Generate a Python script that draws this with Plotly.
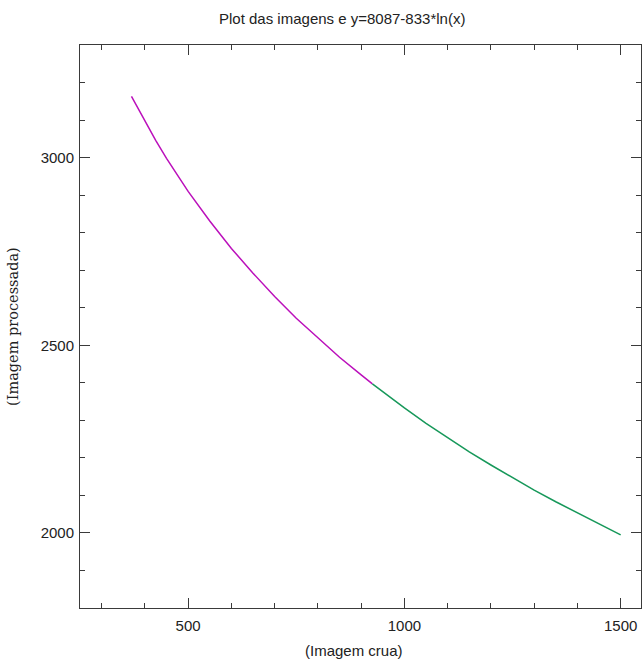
import plotly.graph_objects as go

# Magenta segment
x_magenta = [369, 400, 425, 450, 475, 500, 550, 600, 650, 700, 750, 800, 850, 900, 926]
y_magenta = [3163, 3096, 3046, 2998, 2953, 2910, 2831, 2758, 2692, 2630, 2572, 2519, 2468, 2421, 2397]

# Green segment
x_green = [926, 950, 1000, 1050, 1100, 1150, 1200, 1250, 1300, 1350, 1400, 1450, 1500]
y_green = [2397, 2376, 2333, 2292, 2253, 2216, 2181, 2147, 2114, 2083, 2053, 2023, 1995]

x_ticks = [500, 1000, 1500]
y_ticks = [2000, 2500, 3000]

title_text = "Plot das imagens e y=8087-833*ln(x)"
x_title = "(Imagem crua)"
y_title = "(Imagem processada)"

W, H = 642, 664
L, T = 80, 45
R = W - 641
B = H - 608
pw = W - L - R
ph = H - T - B


def px_x(page_x):
    return (page_x - L) / pw


def px_y(page_y):
    return 1 - (page_y - T) / ph


fig = go.Figure()
fig.add_trace(go.Scatter(x=x_magenta, y=y_magenta, mode="lines",
                         line=dict(color="#bb10bb", width=1.5), showlegend=False))
fig.add_trace(go.Scatter(x=x_green, y=y_green, mode="lines",
                         line=dict(color="#17985a", width=1.5), showlegend=False))

axis_common = dict(
    showline=True, linecolor="#3a3a3a", linewidth=1, mirror="allticks",
    ticks="inside", ticklen=10, tickwidth=1, tickcolor="#3a3a3a",
    showgrid=False, zeroline=False,
    tickfont=dict(family="Liberation Sans, Arial", size=15, color="#222"),
)

fig.update_xaxes(range=[250, 1547], tickvals=x_ticks, ticktext=[str(v) for v in x_ticks],
                 minor=dict(ticks="inside", ticklen=5, tickcolor="#3a3a3a", dtick=100, tick0=0,
                            showgrid=False),
                 ticklabelstandoff=4,
                 **axis_common)
fig.update_yaxes(range=[1800, 3300], tickvals=y_ticks, ticktext=[str(v) for v in y_ticks],
                 minor=dict(ticks="inside", ticklen=5, tickcolor="#3a3a3a", dtick=100, tick0=0,
                            showgrid=False),
                 ticklabelstandoff=2,
                 **axis_common)

fig.update_layout(
    width=W, height=H,
    margin=dict(l=L, r=R, t=T, b=B, pad=0),
    paper_bgcolor="white", plot_bgcolor="white",
    showlegend=False,
    annotations=[
        dict(text=title_text, xref="paper", yref="paper",
             x=px_x(342), y=px_y(18), xanchor="center", yanchor="middle",
             showarrow=False, font=dict(family="Liberation Sans, Arial", size=15, color="#222")),
        dict(text=x_title, xref="paper", yref="paper",
             x=px_x(354), y=px_y(650), xanchor="center", yanchor="middle",
             showarrow=False, font=dict(family="Liberation Sans, Arial", size=15, color="#222")),
        dict(text=y_title, xref="paper", yref="paper",
             x=px_x(13), y=px_y(327), xanchor="center", yanchor="middle",
             textangle=-90,
             showarrow=False, font=dict(family="DejaVu Serif", size=14.5, color="#222")),
    ],
)

fig.write_html("out.html",
               config={"displayModeBar": False},
               post_script="document.body.style.margin='0';document.body.style.overflow='hidden';")
